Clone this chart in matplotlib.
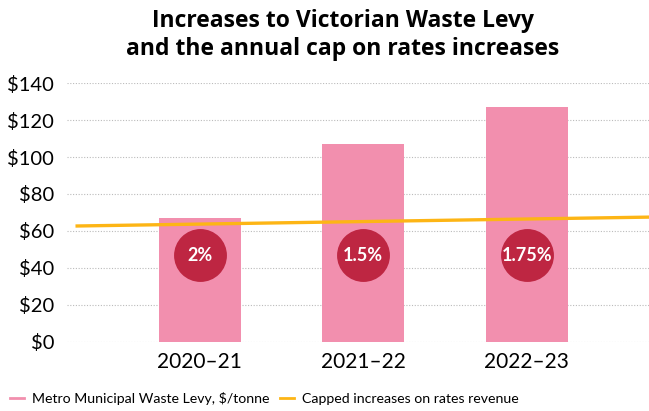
import matplotlib.pyplot as plt
from matplotlib.lines import Line2D

years = ['2020–21', '2021–22', '2022–23']
levy = [67, 107, 127]
cap_pct = ['2%', '1.5%', '1.75%']
circle_y = [47, 47, 47]
cap_x = [-0.75, 2.75]
cap_vals = [62.7, 67.5]
yticks = [0, 20, 40, 60, 80, 100, 120, 140]

plt.rcParams['font.family'] = ['Lato', 'DejaVu Sans']

pink = '#F28FAE'
red = '#BE2642'
orange = '#FDB515'

fig = plt.figure(figsize=(6.49, 4.11), dpi=100)
ax = fig.add_axes([0.103, 0.168, 0.897, 0.63])

x = list(range(len(years)))
ax.bar(x, levy, width=0.5, color=pink, zorder=2)
ax.plot(cap_x, cap_vals, color=orange, lw=2.4, zorder=3)
ax.scatter(x, circle_y, s=1450, color=red, zorder=4, linewidths=0)
for xi, yi, t in zip(x, circle_y, cap_pct):
    ax.text(xi, yi, t, color='white', fontsize=13, fontweight='bold',
            ha='center', va='center', zorder=5)

ax.set_xlim(-0.813, 2.747)
ax.set_ylim(0, 140)
ax.set_yticks(yticks)
ax.set_yticklabels(['$' + str(v) for v in yticks], fontsize=14.5)
ax.set_xticks(x)
ax.set_xticklabels(years, fontsize=15)
ax.tick_params(length=0, pad=7)
ax.tick_params(axis='y', pad=9)
ax.grid(axis='y', color='#bbbbbb', linestyle=(0, (1, 1.5)), lw=0.8, zorder=0)
for s in ax.spines.values():
    s.set_visible(False)

fig.text(0.528, 0.978, 'Increases to Victorian Waste Levy\nand the annual cap on rates increases',
         ha='center', va='top', fontsize=16.5, fontweight='bold', linespacing=1.22,
         family=['Open Sans', 'DejaVu Sans'])

handles = [Line2D([], [], color=pink, lw=2),
           Line2D([], [], color=orange, lw=2)]
fig.legend(handles, ['Metro Municipal Waste Levy, $/tonne', 'Capped increases on rates revenue'],
           loc='lower left', bbox_to_anchor=(-0.005, -0.016), ncol=2, frameon=False,
           fontsize=10.2, handlelength=1.0, handletextpad=0.6, columnspacing=0.7)

fig.savefig('out.png', dpi=100)
